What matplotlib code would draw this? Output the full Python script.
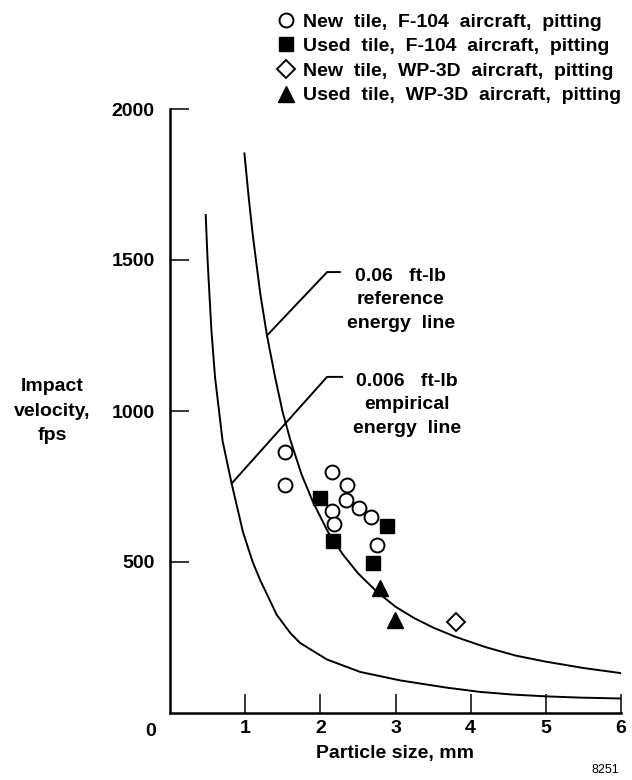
import matplotlib
matplotlib.use('Agg')
import matplotlib.pyplot as plt
from matplotlib.lines import Line2D

plt.rcParams['font.family'] = ['Liberation Sans', 'DejaVu Sans']
plt.rcParams['font.weight'] = 'bold'

# 0.06 ft-lb reference energy line
ref_x = [0.99, 1.05, 1.10, 1.20, 1.29, 1.40, 1.50, 1.60, 1.75, 1.90, 2.10, 2.30, 2.50, 2.75, 3.00, 3.25, 3.50, 3.80, 4.20, 4.60, 5.00, 5.50, 6.00]
ref_y = [1853, 1700, 1585, 1390, 1250, 1110, 995, 905, 790, 700, 600, 525, 463, 402, 352, 314, 283, 252, 218, 190, 170, 149, 132]

# 0.006 ft-lb empirical energy line
emp_x = [0.475, 0.50, 0.55, 0.60, 0.70, 0.82, 0.97, 1.10, 1.20, 1.42, 1.60, 1.73, 2.09, 2.53, 3.06, 3.68, 4.12, 4.56, 5.01, 5.45, 6.00]
emp_y = [1649, 1500, 1270, 1110, 900, 760, 600, 500, 440, 325, 265, 232, 177, 136, 108, 84, 70, 61, 55, 51, 48]

# test points
new_f104_x = [1.53, 1.53, 2.16, 2.35, 2.34, 2.51, 2.68, 2.15, 2.18, 2.76]
new_f104_y = [865, 755, 799, 755, 705, 679, 648, 670, 626, 556]
used_f104_x = [1.99, 2.17, 2.89, 2.70]
used_f104_y = [712, 571, 619, 498]
new_wp3d_x = [3.80]
new_wp3d_y = [301]
used_wp3d_x = [2.79, 2.99]
used_wp3d_y = [414, 308]

legend_labels = ['New  tile,  F-104  aircraft,  pitting',
                 'Used  tile,  F-104  aircraft,  pitting',
                 'New  tile,  WP-3D  aircraft,  pitting',
                 'Used  tile,  WP-3D  aircraft,  pitting']

fig = plt.figure(figsize=(6.32, 7.8), dpi=100)
ax = fig.add_axes([170/632, 67/780, 451/632, 604/780])

ax.plot(ref_x, ref_y, color='black', lw=1.4)
ax.plot(emp_x, emp_y, color='black', lw=1.4)

ax.plot(new_f104_x, new_f104_y, 'o', ms=10, mfc='white', mec='black', mew=1.4, ls='none')
ax.plot(used_f104_x, used_f104_y, 's', ms=10, mfc='black', mec='black', ls='none')
ax.plot(new_wp3d_x, new_wp3d_y, 'D', ms=9, mfc='white', mec='black', mew=1.4, ls='none')
ax.plot(used_wp3d_x, used_wp3d_y, '^', ms=11, mfc='black', mec='black', ls='none')

# leader lines and labels
ax.plot([1.29, 2.09, 2.26], [1250, 1460, 1460], color='black', lw=1.4)
ax.plot([0.82, 2.09, 2.29], [760, 1113, 1113], color='black', lw=1.4)
ax.text(3.07, 1368, '0.06   ft-lb\nreference\nenergy  line', ha='center', va='center',
        multialignment='center', fontsize=14, linespacing=1.5)
ax.text(3.15, 1020, '0.006   ft-lb\nempirical\nenergy  line', ha='center', va='center',
        multialignment='center', fontsize=14, linespacing=1.5)

ax.set_xlim(0, 6)
ax.set_ylim(0, 2000)
ax.set_xticks([1, 2, 3, 4, 5, 6])
ax.set_yticks([500, 1000, 1500, 2000])
ax.spines['top'].set_visible(False)
ax.spines['right'].set_visible(False)
ax.spines['left'].set_linewidth(1.8)
ax.spines['bottom'].set_linewidth(1.8)
ax.tick_params(axis='both', direction='in', length=14, width=1.1, labelsize=14)
ax.tick_params(axis='y', pad=11)
ax.tick_params(axis='x', pad=5)
ax.annotate('0', xy=(0, 0), xytext=(-14, -13), textcoords='offset points',
            ha='center', va='center', fontsize=14, annotation_clip=False)

ax.set_xlabel('Particle size, mm', fontsize=14, fontweight='bold', labelpad=6)
fig.text(52/632, 1 - 411/780, 'Impact\nvelocity,\nfps', ha='center', va='center',
         multialignment='center', fontsize=14, linespacing=1.55)

handles = [
    Line2D([], [], marker='o', ls='none', ms=10, mfc='white', mec='black', mew=1.4),
    Line2D([], [], marker='s', ls='none', ms=10, mfc='black', mec='black'),
    Line2D([], [], marker='D', ls='none', ms=9, mfc='white', mec='black', mew=1.4),
    Line2D([], [], marker='^', ls='none', ms=11, mfc='black', mec='black'),
]
fig.legend(handles, legend_labels, loc='upper left', bbox_to_anchor=(278/632, 1 - 13/780),
           frameon=False, fontsize=14, handlelength=0.8, handletextpad=0.5,
           labelspacing=0.36, borderpad=0, borderaxespad=0)

fig.text(605/632, 1 - 764/780, '8251', ha='center', va='top', fontsize=9, fontweight='normal')

fig.savefig('out.png', dpi=100)
